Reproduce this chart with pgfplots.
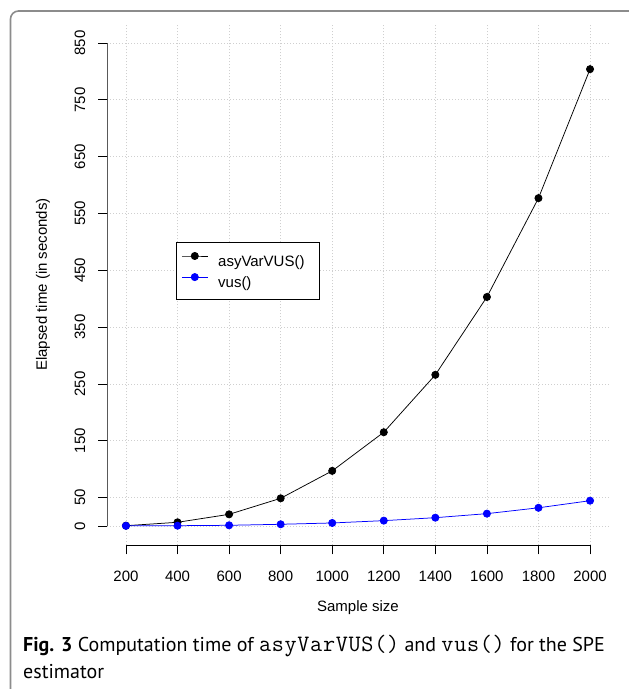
\documentclass[border=0pt]{standalone}
\usepackage{fontspec}
\setmainfont{Liberation Sans}
\newfontfamily\capfont{PT Sans}
\newfontfamily\capmono[LetterSpace=3]{Latin Modern Mono}
\usepackage{pgfplots}
\pgfplotsset{compat=1.18}
\definecolor{framegray}{HTML}{8C8C8C}
\definecolor{gridgray}{HTML}{CFCFCF}

\pgfplotstableread{
n     t
200   0.5
400   6.5
600   20.5
800   48.7
1000  97
1200  165
1400  266
1600  403
1800  577
2000  804
}\asyvar

\pgfplotstableread{
n     t
200   0.3
400   0.5
600   1.2
800   3.0
1000  5.3
1200  9.4
1400  14.6
1600  21.7
1800  32
2000  44.5
}\vus

\begin{document}
\fontsize{15}{18}\selectfont
\begin{tikzpicture}
\useasboundingbox (-107.4pt,-143.7pt) rectangle (521.6pt,545.3pt);
\begin{axis}[
  at={(0pt,0pt)}, anchor=south west,
  scale only axis, width=501.2pt, height=521.6pt,
  xmin=128, xmax=2072, ymin=-34, ymax=884,
  axis x line*=bottom, axis y line*=left,
  axis line style={draw=none},
  xtick={200,400,600,800,1000,1200,1400,1600,1800,2000},
  ytick={0,50,150,250,350,450,550,650,750,850},
  tick align=outside,
  major tick length=9pt,
  tick style={black, line width=0.8pt},
  grid=major,
  grid style={gridgray, line width=0.8pt, dash pattern=on 1pt off 2pt},
  /pgf/number format/assume math mode=true,
  /pgf/number format/1000 sep={},
  xticklabel style={anchor=north, inner sep=0pt},
  xticklabel shift=17pt,
  yticklabel style={rotate=90, anchor=south, inner sep=0pt},
  yticklabel shift=13pt,
  xlabel={Sample size},
  ylabel={Elapsed time (in seconds)},
  xlabel style={at={(axis description cs:0.5,-0.1202)}, anchor=center},
  ylabel style={at={(axis description cs:-0.1285,0.5)}, anchor=center},
  legend style={at={(0.1369,0.5815)}, anchor=north west, draw=black,
    line width=0.8pt, fill=white, inner xsep=5pt, inner ysep=10pt,
    row sep=5pt, column sep=10pt,
    nodes={inner sep=0pt, text height=13pt, text depth=2pt}},
  legend cell align=left,
  legend image code/.code={\draw[mark repeat=2, mark phase=2, #1]
     plot coordinates {(0pt,5pt) (13pt,5pt) (26pt,5pt)};},
]
\addplot[black, line width=0.75pt, mark=*, mark size=3.6pt,
  mark options={solid, fill=black, draw=black}] table[x=n, y=t] {\asyvar};
\addlegendentry{\makebox[96pt][l]{asyVarVUS()}}
\addplot[blue, line width=0.75pt, mark=*, mark size=3.6pt,
  mark options={solid, fill=blue, draw=blue}] table[x=n, y=t] {\vus};
\addlegendentry{\makebox[96pt][l]{vus()}}
\draw[black, line width=0.8pt] (axis cs:200,-34) -- (axis cs:2000,-34);
\draw[black, line width=0.8pt] (axis cs:128,0) -- (axis cs:128,850);
\end{axis}
\draw[framegray, line width=1.6pt, rounded corners=8pt]
  (-96.9pt,-143.7pt) -- (-96.9pt,534.3pt) -- (521.6pt,534.3pt);
\node[anchor=base west, inner sep=0pt] at (-84.4pt,-105.7pt)
  {\fontsize{20}{24}\capfont\textbf{Fig. 3} Computation time of {\capmono\fontsize{23.5}{24}\selectfont asyVarVUS()} and {\capmono\fontsize{23.5}{24}\selectfont vus()} for the SPE};
\node[anchor=base west, inner sep=0pt] at (-84.4pt,-132.7pt)
  {\fontsize{20}{24}\capfont estimator};
\end{tikzpicture}
\end{document}
